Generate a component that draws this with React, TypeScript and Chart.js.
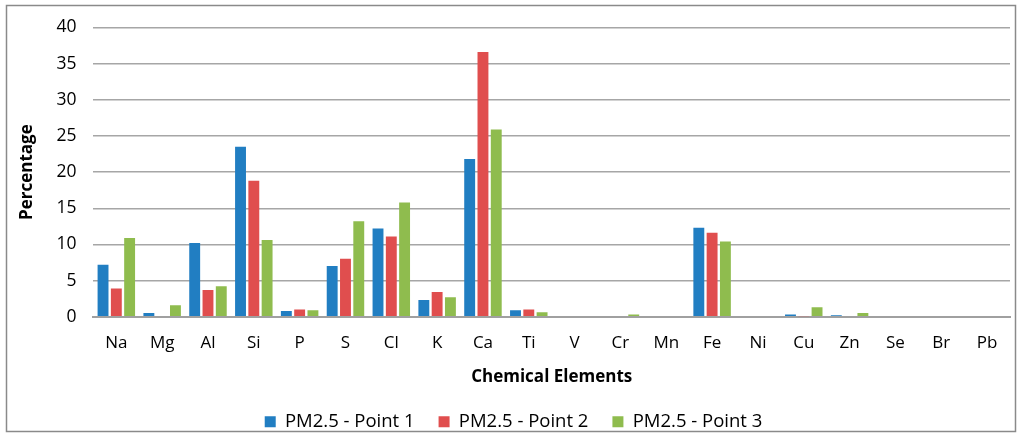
import React, { useEffect, useRef } from "react";
import { Chart, registerables } from "chart.js";

Chart.register(...registerables);

const categories = ["Na", "Mg", "Al", "Si", "P", "S", "Cl", "K", "Ca", "Ti", "V", "Cr", "Mn", "Fe", "Ni", "Cu", "Zn", "Se", "Br", "Pb"];
const point1 = [7.2, 0.5, 10.2, 23.5, 0.8, 7.0, 12.2, 2.3, 21.8, 0.9, 0, 0, 0, 12.3, 0, 0.3, 0.2, 0, 0, 0];
const point2 = [3.9, 0, 3.7, 18.8, 1.0, 8.0, 11.1, 3.4, 36.6, 1.0, 0, 0, 0, 11.6, 0, 0.05, 0.1, 0, 0, 0];
const point3 = [10.9, 1.6, 4.2, 10.6, 0.9, 13.2, 15.8, 2.7, 25.9, 0.6, 0, 0.3, 0, 10.4, 0, 1.3, 0.5, 0, 0, 0.1];
const seriesNames = ["PM2.5 - Point 1", "PM2.5 - Point 2", "PM2.5 - Point 3"];
const yTicks = [0, 5, 10, 15, 20, 25, 30, 35, 40];

const FONT = "'Open Sans', 'DejaVu Sans', sans-serif";

const framePlugin = {
  id: "frame",
  afterDraw(chart: any) {
    const ctx = chart.ctx;
    ctx.save();
    ctx.strokeStyle = "#8a8a8a";
    ctx.lineWidth = 1.5;
    ctx.strokeRect(6.5, 5.5, 1009, 426);
    ctx.restore();
  },
};

export default function App() {
  const ref = useRef<HTMLCanvasElement>(null);
  useEffect(() => {
    if (!ref.current) return;
    const colors = ["#217EC2", "#E04E4E", "#8FBC4E"];
    const data = [point1, point2, point3];
    const chart = new Chart(ref.current, {
      type: "bar",
      data: {
        labels: categories,
        datasets: seriesNames.map((n, i) => ({
          label: n,
          data: data[i],
          backgroundColor: colors[i],
          borderWidth: 0,
          categoryPercentage: 0.87,
          barPercentage: 0.82,
        })),
      },
      options: {
        responsive: false,
        animation: false,
        layout: { padding: { left: 17, right: 14, top: 13, bottom: 0 } },
        plugins: {
          legend: {
            position: "bottom",
            labels: {
              boxWidth: 11,
              boxHeight: 11,
              padding: 24,
              color: "#000",
              font: { family: FONT, size: 18.5 },
            },
          },
          tooltip: { enabled: false },
        },
        scales: {
          x: {
            grid: { display: false },
            border: { display: true, color: "#a0a0a0", width: 2 },
            ticks: { color: "#000", font: { family: FONT, size: 17 }, padding: 8 },
            title: {
              display: true,
              text: "Chemical Elements",
              color: "#000",
              font: { family: FONT, size: 17, weight: "bold" },
              padding: { top: 6, bottom: 1 },
            },
          },
          y: {
            min: 0,
            max: 40,
            afterBuildTicks: (axis: any) => {
              axis.ticks = yTicks.map((v) => ({ value: v }));
            },
            grid: { color: "#a6a6a6", lineWidth: 1.5, drawTicks: false },
            border: { display: false },
            ticks: { color: "#000", font: { family: FONT, size: 17.5 }, padding: 17 },
            title: {
              display: true,
              text: "Percentage",
              color: "#000",
              font: { family: FONT, size: 17, weight: "bold" },
              padding: { top: 0, bottom: 2 },
            },
          },
        },
      },
      plugins: [framePlugin],
    });
    return () => chart.destroy();
  }, []);
  return (
    <div style={{ position: "absolute", left: 0, top: 0, width: 1024, height: 441, background: "#fff" }}>
      <canvas ref={ref} width={1024} height={441} />
    </div>
  );
}
